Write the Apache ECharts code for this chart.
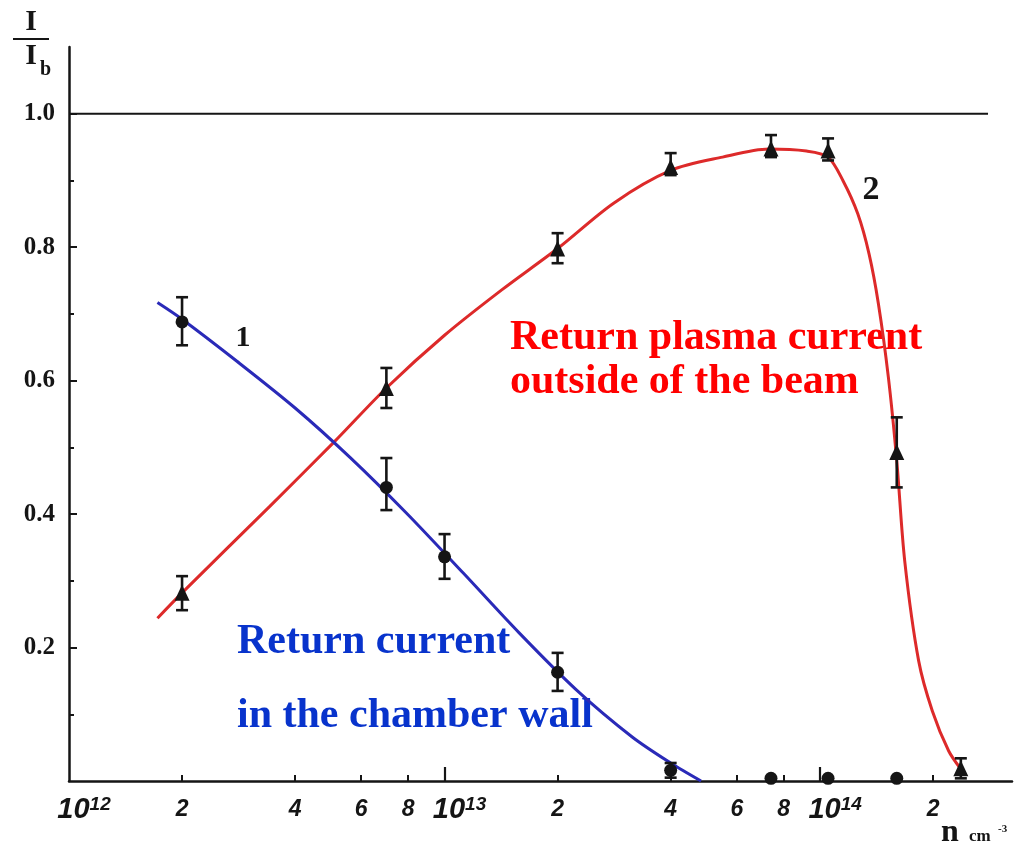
<!DOCTYPE html>
<html>
<head>
<meta charset="utf-8">
<title>Return current vs plasma density</title>
<script src="https://cdn.jsdelivr.net/npm/echarts@6/dist/echarts.min.js"></script>
<style>
  html, body { margin: 0; padding: 0; background: #fff; }
  #chart { width: 1036px; height: 849px; }
</style>
</head>
<body>
<div id="chart"></div>
<script>
// x axis: plasma density n, cm^-3 (plotted on log10 scale)
const tickDensity = [1e12, 2e12, 4e12, 6e12, 8e12, 1e13, 2e13, 4e13, 6e13, 8e13, 1e14, 2e14];
const tickLabels = ['10|12', '2', '4', '6', '8', '10|13', '2', '4', '6', '8', '10|14', '2'];
const decadeTicks = [1e13, 1e14];
const yMajorTicks = [0.2, 0.4, 0.6, 0.8, 1.0];
const yMinorTicks = [0.1, 0.3, 0.5, 0.7, 0.9];

// 1 - return current in the chamber wall (circles)
const wallDensity = [2e12, 7e12, 1e13, 2e13, 4e13, 7.4e13, 1.05e14, 1.6e14];
const wallValue = [0.688, 0.44, 0.336, 0.163, 0.016, 0.004, 0.004, 0.004];
const wallErrLow = [0.653, 0.406, 0.303, 0.135, 0.005, null, null, null];
const wallErrHigh = [0.725, 0.484, 0.370, 0.192, 0.027, null, null, null];
const wallCurveDensity = [1.72e12, 2e12, 2.8e12, 4e12, 5.6e12, 7.9e12, 1.12e13, 1.58e13, 2.24e13, 3.16e13, 4e13, 4.82e13];
const wallCurveValue = [0.717, 0.692, 0.629, 0.559, 0.485, 0.402, 0.312, 0.222, 0.137, 0.066, 0.027, 0];

// 2 - return plasma current outside of the beam (triangles)
const plasmaDensity = [2e12, 7e12, 2e13, 4e13, 7.4e13, 1.05e14, 1.6e14, 2.37e14];
const plasmaValue = [0.282, 0.589, 0.798, 0.920, 0.948, 0.945, 0.493, 0.019];
const plasmaErrLow = [0.256, 0.559, 0.776, 0.908, 0.935, 0.930, 0.440, 0.004];
const plasmaErrHigh = [0.307, 0.619, 0.821, 0.941, 0.968, 0.963, 0.545, 0.034];
const plasmaCurveDensity = [1.72e12, 2e12, 3.43e12, 5.1e12, 7e12, 1e13, 1.42e13, 2e13, 2.82e13, 4e13,
  5.5e13, 7.3e13, 9.2e13, 1.05e14, 1.15e14, 1.26e14, 1.35e14, 1.43e14, 1.52e14, 1.6e14, 1.68e14,
  1.83e14, 1.99e14, 2.2e14, 2.37e14];
const plasmaCurveValue = [0.244, 0.282, 0.412, 0.509, 0.589, 0.668, 0.736, 0.798, 0.866, 0.915,
  0.935, 0.947, 0.944, 0.935, 0.900, 0.850, 0.790, 0.715, 0.605, 0.480, 0.330,
  0.180, 0.105, 0.045, 0.018];

const unityDensity = [1e12, 2.8e14];
const unityValue = [1, 1];

const lg = Math.log10;
const pairs = (xs, ys) => xs.map((x, i) => [lg(x), ys[i]]);
const errPairs = (xs, lo, hi) => xs.map((x, i) => [lg(x), lo[i], hi[i]]).filter(d => d[1] != null);

const serif = '"Liberation Serif", "Times New Roman", serif';
const hand = '"Liberation Sans", Arial, sans-serif';
const ink = '#151515';

function errorBar(params, api) {
  const x = api.value(0);
  const top = api.coord([x, api.value(2)]);
  const bot = api.coord([x, api.value(1)]);
  const w = 6;
  const st = { stroke: ink, lineWidth: 2.6 };
  return {
    type: 'group',
    children: [
      { type: 'line', shape: { x1: top[0], y1: top[1], x2: bot[0], y2: bot[1] }, style: st },
      { type: 'line', shape: { x1: top[0] - w, y1: top[1], x2: top[0] + w, y2: top[1] }, style: st },
      { type: 'line', shape: { x1: bot[0] - w, y1: bot[1], x2: bot[0] + w, y2: bot[1] }, style: st }
    ]
  };
}

function xLabel(value) {
  const i = tickDensity.findIndex(d => Math.abs(lg(d) - value) < 1e-6);
  if (i < 0) return '';
  const t = tickLabels[i];
  if (t.indexOf('|') >= 0) {
    const p = t.split('|');
    return '{sp|}{b|' + p[0] + '}{sup|' + p[1] + '}';
  }
  return '{d|' + t + '}';
}

const minorX = tickDensity.filter(d => decadeTicks.indexOf(d) < 0 && d !== 1e12).map(lg);

const myChart = echarts.init(document.getElementById('chart'));
const option = {
  animation: false,
  backgroundColor: '#fff',
  grid: { left: 69, right: 24, top: 47, bottom: 68, containLabel: false, outerBoundsMode: 'none' },
  xAxis: [
    {
      type: 'value', min: 12, max: 14.511, position: 'bottom',
      axisLine: { show: true, onZero: false, lineStyle: { color: ink, width: 2.5 } },
      axisTick: { show: true, inside: true, length: 6, customValues: minorX, lineStyle: { color: ink, width: 2 } },
      axisLabel: {
        customValues: tickDensity.map(lg),
        formatter: xLabel,
        margin: 14,
        rich: {
          sp: { width: 30, lineHeight: 30 },
          b: { fontFamily: hand, fontStyle: 'italic', fontWeight: 'bold', fontSize: 29, lineHeight: 30, color: ink },
          sup: { fontFamily: hand, fontStyle: 'italic', fontWeight: 'bold', fontSize: 19, lineHeight: 8, verticalAlign: 'top', color: ink },
          d: { fontFamily: hand, fontStyle: 'italic', fontWeight: 'bold', fontSize: 23, lineHeight: 30, color: ink }
        }
      },
      splitLine: { show: false }
    },
    {
      type: 'value', min: 12, max: 14.511, position: 'bottom',
      axisLine: { show: false },
      axisTick: { show: true, inside: true, length: 14, customValues: decadeTicks.map(lg), lineStyle: { color: ink, width: 2.2 } },
      axisLabel: { show: false },
      splitLine: { show: false }
    }
  ],
  yAxis: [
    {
      type: 'value', min: 0, max: 1.1,
      axisLine: { show: true, onZero: false, lineStyle: { color: ink, width: 2.5 } },
      axisTick: { show: true, inside: true, length: 8, customValues: yMajorTicks, lineStyle: { color: ink, width: 2 } },
      axisLabel: {
        customValues: yMajorTicks,
        formatter: v => v.toFixed(1),
        margin: 14,
        fontFamily: serif, fontWeight: 'bold', fontSize: 25, color: ink
      },
      splitLine: { show: false }
    },
    {
      type: 'value', min: 0, max: 1.1, position: 'left',
      axisLine: { show: false },
      axisTick: { show: true, inside: true, length: 5, customValues: yMinorTicks, lineStyle: { color: ink, width: 2 } },
      axisLabel: { show: false },
      splitLine: { show: false }
    }
  ],
  series: [
    {
      name: 'I = Ib', type: 'line', data: pairs(unityDensity, unityValue),
      showSymbol: false, lineStyle: { color: ink, width: 2 }, z: 1
    },
    {
      name: 'wall curve', type: 'line', data: pairs(wallCurveDensity, wallCurveValue),
      showSymbol: false, smooth: 0.3,
      lineStyle: { color: '#2a2ab8', width: 3 }, z: 3
    },
    {
      name: 'plasma curve', type: 'line', data: pairs(plasmaCurveDensity, plasmaCurveValue),
      showSymbol: false, smooth: 0.3,
      lineStyle: { color: '#dd2a2a', width: 3 }, z: 2
    },
    {
      name: 'wall err', type: 'custom', renderItem: errorBar,
      data: errPairs(wallDensity, wallErrLow, wallErrHigh), z: 4
    },
    {
      name: 'plasma err', type: 'custom', renderItem: errorBar,
      data: errPairs(plasmaDensity, plasmaErrLow, plasmaErrHigh), z: 4
    },
    {
      name: 'wall', type: 'scatter', data: pairs(wallDensity, wallValue),
      symbol: 'circle', symbolSize: 13, itemStyle: { color: ink, opacity: 1 }, z: 5
    },
    {
      name: 'plasma', type: 'scatter', data: pairs(plasmaDensity, plasmaValue),
      symbol: 'triangle', symbolSize: [15, 16], itemStyle: { color: ink, opacity: 1 }, z: 5
    }
  ],
  graphic: [
    { type: 'text', x: 31, y: 22, style: { text: 'I', font: 'bold 30px ' + serif, fill: ink, align: 'center', verticalAlign: 'middle' } },
    { type: 'line', shape: { x1: 13, y1: 39, x2: 49, y2: 39 }, style: { stroke: ink, lineWidth: 2.2 } },
    { type: 'text', x: 31, y: 56, style: { text: 'I', font: 'bold 30px ' + serif, fill: ink, align: 'center', verticalAlign: 'middle' } },
    { type: 'text', x: 40, y: 70, style: { text: 'b', font: 'bold 20px ' + serif, fill: ink, align: 'left', verticalAlign: 'middle' } },
    { type: 'text', x: 941, y: 833, style: { text: 'n', font: 'bold 32px ' + serif, fill: ink, verticalAlign: 'middle' } },
    { type: 'text', x: 969, y: 837, style: { text: 'cm', font: 'bold 17px ' + serif, fill: ink, verticalAlign: 'middle' } },
    { type: 'text', x: 998, y: 829, style: { text: '-3', font: 'bold 11px ' + serif, fill: ink, verticalAlign: 'middle' } },
    { type: 'text', x: 243, y: 338, style: { text: '1', font: 'bold 30px ' + serif, fill: ink, align: 'center', verticalAlign: 'middle' } },
    { type: 'text', x: 871, y: 190, style: { text: '2', font: 'bold 34px ' + serif, fill: ink, align: 'center', verticalAlign: 'middle' } },
    { type: 'text', x: 510, y: 338, style: { text: 'Return plasma current', font: 'bold 42px ' + serif, fill: '#ff0000', verticalAlign: 'middle' } },
    { type: 'text', x: 510, y: 382, style: { text: 'outside of the beam', font: 'bold 42px ' + serif, fill: '#ff0000', verticalAlign: 'middle' } },
    { type: 'text', x: 237, y: 642, style: { text: 'Return current', font: 'bold 42px ' + serif, fill: '#0833cc', verticalAlign: 'middle' } },
    { type: 'text', x: 237, y: 716, style: { text: 'in the chamber wall', font: 'bold 42px ' + serif, fill: '#0833cc', verticalAlign: 'middle' } }
  ]
};
option && myChart.setOption(option);
</script>
</body>
</html>
